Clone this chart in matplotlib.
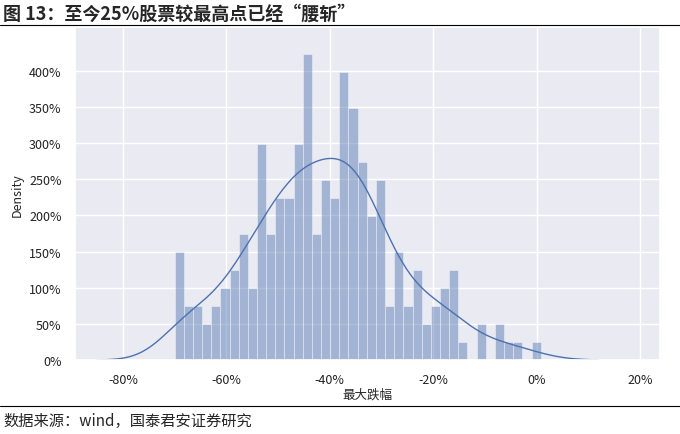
import numpy as np
import matplotlib
matplotlib.use("Agg")
import matplotlib.pyplot as plt
import seaborn as sns
from matplotlib.ticker import FuncFormatter

sns.set_theme(style="darkgrid")
plt.rcParams['font.family'] = ['Noto Sans CJK SC', 'DejaVu Sans']

# number of stocks per bin (density step 25% = 1 stock)
counts = [6, 3, 3, 2, 3, 4, 5, 7, 4, 12, 7, 9, 9, 12, 17, 7, 10, 9, 16, 14,
          11, 8, 10, 3, 6, 3, 5, 2, 3, 4, 5, 1, 0, 2, 0, 2, 1, 1, 0, 1]
edges = np.linspace(-0.700, 0.008, len(counts) + 1)

counts = np.array(counts)
width = edges[1] - edges[0]
n = counts.sum()
density = counts / (n * width)
centers = (edges[:-1] + edges[1:]) / 2

# kde from bin centres
samples = np.repeat(centers, counts)
bw = 1.06 * samples.std() * n ** -0.2
xs = np.linspace(-0.85, 0.12, 400)
kde = np.exp(-0.5 * ((xs[:, None] - samples[None, :]) / bw) ** 2).sum(axis=1) / (n * bw * np.sqrt(2 * np.pi))

fig = plt.figure(figsize=(6.8, 4.35), dpi=100)
ax = fig.add_axes([0.11, 0.17, 0.86, 0.765])
ax.bar(edges[:-1], density, width=width, align='edge', color='#4c72b0', alpha=0.45,
       edgecolor='white', linewidth=0.6)
ax.plot(xs, kde, color='#4c72b0', linewidth=1)
ax.set_xlim(-0.893, 0.238)
ax.set_ylim(0, 4.6)
ax.set_xticks([-0.8, -0.6, -0.4, -0.2, 0, 0.2])
ax.set_yticks(np.arange(0, 4.01, 0.5))
ax.xaxis.set_major_formatter(FuncFormatter(lambda v, p: '{:.0f}%'.format(v * 100)))
ax.yaxis.set_major_formatter(FuncFormatter(lambda v, p: '{:.0f}%'.format(v * 100)))
ax.tick_params(labelsize=9, labelcolor='#222222')
ax.set_xlabel('最大跌幅', fontsize=9, labelpad=1)
ax.set_ylabel('Density', fontsize=9)

fig.text(0.005, 0.968, '图 13：至今25%股票较最高点已经“腰斩”', fontsize=13, fontweight='bold', va='center')
fig.add_artist(plt.Line2D([0, 1], [0.94, 0.94], color='black', linewidth=0.8))
fig.add_artist(plt.Line2D([0, 1], [0.065, 0.065], color='black', linewidth=0.8))
fig.text(0.005, 0.03, '数据来源：wind，国泰君安证券研究', fontsize=11, va='center')

fig.savefig('out.png')
